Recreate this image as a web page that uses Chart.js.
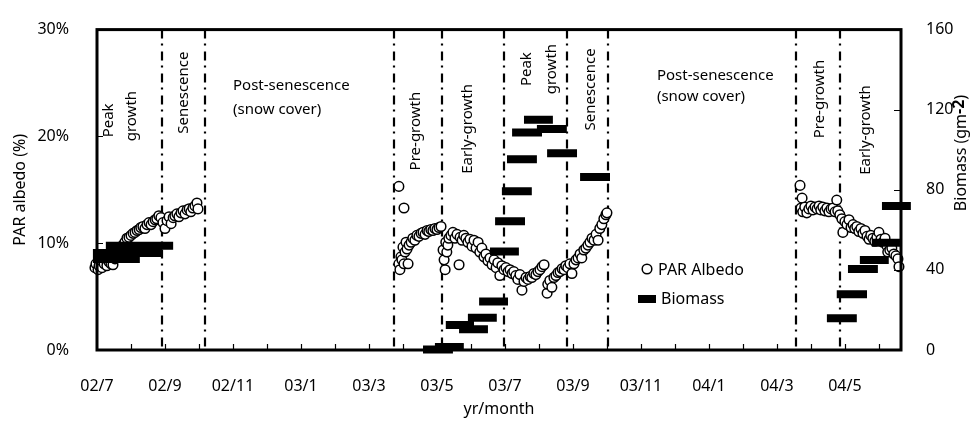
<!DOCTYPE html>
<html>
<head>
<meta charset="utf-8">
<script src="https://cdn.jsdelivr.net/npm/chart.js@4.4.1/dist/chart.umd.min.js"></script>
<style>
  html, body { margin: 0; padding: 0; background: #fff; }
</style>
</head>
<body>
<canvas id="albedoChart" width="973" height="423"></canvas>
<script>
// x values are months counted from July 2002 (0 = 02/7)
const monthLabels = ['02/7', '02/9', '02/11', '03/1', '03/3', '03/5', '03/7', '03/9', '03/11', '04/1', '04/3', '04/5'];

// PAR albedo (%), [month, value]
const albedo2002 = [
  [-0.06, 7.71], [-0.03, 8.07], [0.03, 7.52], [0.06, 7.89], [0.12, 8.26], [0.15, 7.71], [0.21, 8.07],
  [0.26, 8.44], [0.29, 7.89], [0.35, 8.26], [0.41, 8.07], [0.47, 7.98], [0.53, 8.53], [0.59, 8.72],
  [0.65, 9.17], [0.71, 9.54], [0.76, 9.82], [0.82, 10.09], [0.88, 10.46], [0.94, 10.55], [1.00, 10.73],
  [1.06, 10.92], [1.12, 11.01], [1.18, 11.19], [1.24, 11.28], [1.29, 11.47], [1.35, 11.56], [1.41, 11.38],
  [1.47, 11.74], [1.53, 11.93], [1.59, 11.74], [1.65, 12.02], [1.71, 12.20], [1.76, 12.29], [1.82, 12.57],
  [1.88, 12.39], [1.94, 11.93], [2.00, 11.38], [2.06, 12.11], [2.12, 12.48], [2.18, 11.83], [2.24, 12.39],
  [2.29, 12.57], [2.35, 12.75], [2.41, 12.48], [2.47, 12.84], [2.53, 13.03], [2.59, 12.75], [2.65, 13.12],
  [2.71, 13.21], [2.76, 12.94], [2.82, 13.30], [2.88, 13.49], [2.94, 13.76], [2.97, 13.21]
];

const albedo2003 = [
  // pre-growth
  [8.88, 15.32], [9.03, 13.30], [8.88, 8.07], [8.91, 7.52], [8.94, 8.72], [8.97, 8.44], [9.00, 9.63],
  [9.03, 8.07], [9.06, 9.17], [9.09, 10.09], [9.12, 9.45], [9.15, 8.07], [9.18, 9.82], [9.24, 10.09],
  [9.29, 10.46], [9.35, 10.28], [9.41, 10.73], [9.47, 10.64], [9.53, 10.92], [9.59, 11.01], [9.65, 10.83],
  [9.71, 11.19], [9.76, 11.10], [9.82, 11.28], [9.88, 11.19], [9.94, 11.38], [10.00, 11.28], [10.06, 11.47],
  [10.12, 11.56],
  // early growth
  [10.18, 9.36], [10.21, 8.44], [10.24, 7.52], [10.26, 10.09], [10.29, 9.17], [10.32, 9.82], [10.35, 10.46],
  [10.41, 10.73], [10.47, 11.01], [10.53, 10.46], [10.59, 10.83], [10.65, 7.98], [10.68, 10.55], [10.74, 10.28],
  [10.79, 10.73], [10.85, 10.46], [10.91, 10.09], [10.97, 10.37], [11.03, 9.72], [11.09, 10.28], [11.15, 9.54],
  [11.21, 10.09], [11.26, 9.17], [11.32, 9.54], [11.38, 8.72], [11.44, 8.99], [11.50, 8.35], [11.56, 8.62],
  [11.62, 7.98], [11.68, 8.44], [11.74, 7.71], [11.79, 8.17], [11.85, 6.97], [11.91, 7.89], [11.97, 7.52],
  // peak growth
  [12.03, 7.71], [12.09, 7.34], [12.15, 7.52], [12.21, 7.16], [12.26, 7.34], [12.32, 6.97], [12.38, 6.61],
  [12.44, 7.06], [12.50, 5.60], [12.56, 6.42], [12.62, 6.79], [12.68, 6.61], [12.74, 6.88], [12.79, 6.79],
  [12.85, 7.16], [12.91, 7.06], [12.97, 7.34], [13.03, 7.52], [13.09, 7.80], [13.15, 7.98], [13.24, 5.32],
  [13.26, 6.15], [13.32, 6.51], [13.38, 5.87], [13.44, 6.79], [13.50, 6.97], [13.56, 7.25], [13.62, 7.34],
  [13.68, 7.61], [13.74, 7.52], [13.79, 7.89],
  // senescence
  [13.85, 7.71], [13.91, 8.07], [13.97, 7.16], [14.03, 8.07], [14.09, 8.44], [14.15, 8.62], [14.21, 8.99],
  [14.26, 8.62], [14.32, 9.36], [14.38, 9.54], [14.44, 9.82], [14.50, 10.09], [14.56, 10.46], [14.62, 10.28],
  [14.68, 10.83], [14.74, 10.28], [14.79, 11.38], [14.85, 11.74], [14.91, 12.29], [14.97, 12.66], [15.00, 12.84]
];

const albedo2004 = [
  [20.68, 15.41], [20.74, 14.22], [20.71, 13.30], [20.76, 12.94], [20.82, 13.39], [20.88, 12.84], [20.94, 13.21],
  [21.00, 13.49], [21.06, 13.12], [21.12, 13.39], [21.18, 13.21], [21.24, 13.49], [21.29, 13.12], [21.35, 13.39],
  [21.41, 13.03], [21.47, 13.30], [21.53, 12.94], [21.59, 13.21], [21.65, 13.30], [21.71, 12.94], [21.76, 14.04],
  [21.79, 13.03], [21.85, 12.66], [21.91, 12.29], [21.94, 11.01], [22.00, 12.02], [22.06, 11.74], [22.12, 12.20],
  [22.18, 11.47], [22.24, 11.74], [22.29, 11.38], [22.35, 11.56], [22.41, 11.10], [22.47, 11.38], [22.53, 10.92],
  [22.59, 11.19], [22.65, 10.64], [22.71, 10.37], [22.76, 10.73], [22.82, 10.46], [22.88, 10.18], [22.94, 10.55],
  [23.00, 11.01], [23.06, 10.37], [23.12, 10.09], [23.18, 10.46], [23.24, 9.72], [23.26, 9.17], [23.32, 9.36],
  [23.38, 9.54], [23.44, 8.99], [23.50, 8.81], [23.56, 8.53], [23.59, 7.80]
];

// biomass harvests: sampling period (start/end month) and g/m2
const biomassStart = [-0.12, -0.12, 0.26,
  9.59, 9.94, 10.26, 10.65, 10.91, 11.24, 11.56, 11.71, 11.91, 12.06, 12.21, 12.56, 12.94, 13.24, 14.21,
  21.47, 21.76, 22.09, 22.44, 22.79, 23.09];
const biomassEnd = [1.26, 1.91, 2.24,
  10.47, 10.79, 11.09, 11.50, 11.76, 12.09, 12.41, 12.59, 12.79, 12.94, 13.09, 13.41, 13.82, 14.12, 15.09,
  22.35, 22.65, 22.97, 23.29, 23.62, 23.94];
const biomassValue = [45.5, 48.5, 52,
  0.2, 1.5, 12.5, 10.3, 16.1, 24.2, 49.2, 64.3, 79.3, 95.2, 108.6, 115, 110.3, 98.3, 86.4,
  15.9, 27.9, 40.4, 45.0, 53.6, 71.9];

// phase boundaries (months)
const phaseLines = [1.90, 3.18, 8.74, 10.14, 11.98, 13.83, 15.03, 20.56, 21.87];

// phase names; x in months, y on the albedo axis
const phaseLabels = [
  { text: 'Peak', x: 0.35, y: 21.5, vertical: true },
  { text: 'growth', x: 1.03, y: 21.9, vertical: true },
  { text: 'Senescence', x: 2.56, y: 24.1, vertical: true },
  { text: 'Post-senescence', x: 4.0, y: 24.7 },
  { text: '(snow cover)', x: 4.0, y: 22.5 },
  { text: 'Pre-growth', x: 9.38, y: 20.5, vertical: true },
  { text: 'Early-growth', x: 10.91, y: 20.7, vertical: true },
  { text: 'Peak', x: 12.65, y: 26.3, vertical: true },
  { text: 'growth', x: 13.38, y: 26.3, vertical: true },
  { text: 'Senescence', x: 14.53, y: 24.4, vertical: true },
  { text: 'Post-senescence', x: 16.47, y: 25.7 },
  { text: '(snow cover)', x: 16.47, y: 23.7 },
  { text: 'Pre-growth', x: 21.26, y: 23.5, vertical: true },
  { text: 'Early-growth', x: 22.62, y: 20.6, vertical: true }
];

const FONT = '"Noto Sans", "DejaVu Sans", sans-serif';

const albedoPoints = [...albedo2002, ...albedo2003, ...albedo2004].map(p => ({ x: p[0], y: p[1] }));

const biomassPoints = [];
biomassValue.forEach((v, i) => {
  biomassPoints.push({ x: biomassStart[i], y: v });
  biomassPoints.push({ x: biomassEnd[i], y: v });
  biomassPoints.push({ x: biomassEnd[i], y: null });
});

const decorations = {
  id: 'decorations',
  beforeDatasetsDraw(chart) {
    const { ctx, chartArea: a, scales: { x, y } } = chart;
    ctx.save();
    ctx.strokeStyle = '#000';
    ctx.lineWidth = 2.2;
    ctx.setLineDash([9, 5, 2, 6]);
    phaseLines.forEach(m => {
      const px = Math.round(x.getPixelForValue(m));
      ctx.beginPath();
      ctx.moveTo(px, a.top);
      ctx.lineTo(px, a.bottom);
      ctx.stroke();
    });
    ctx.setLineDash([]);

    ctx.fillStyle = '#000';
    ctx.font = '15px ' + FONT;
    ctx.textBaseline = 'middle';
    phaseLabels.forEach(l => {
      ctx.save();
      ctx.translate(x.getPixelForValue(l.x), y.getPixelForValue(l.y));
      if (l.vertical) {
        ctx.rotate(-Math.PI / 2);
        ctx.textAlign = 'center';
      } else {
        ctx.textAlign = 'left';
      }
      ctx.fillText(l.text, 0, 0);
      ctx.restore();
    });
    ctx.restore();
  },
  afterDatasetsDraw(chart) {
    const { ctx, chartArea: a, scales: { x, y, y1 } } = chart;
    ctx.save();
    ctx.strokeStyle = '#000';

    // frame
    ctx.lineWidth = 3;
    ctx.strokeRect(a.left, a.top, a.right - a.left, a.bottom - a.top);

    // inward tick marks
    ctx.lineWidth = 1.2;
    ctx.beginPath();
    for (let m = 1; m < x.max; m++) {
      const px = Math.round(x.getPixelForValue(m)) + 0.5;
      ctx.moveTo(px, a.bottom);
      ctx.lineTo(px, a.bottom - 6);
    }
    [10, 20].forEach(v => {
      const py = Math.round(y.getPixelForValue(v)) + 0.5;
      ctx.moveTo(a.left, py);
      ctx.lineTo(a.left + 6, py);
    });
    [40, 80, 120].forEach(v => {
      const py = Math.round(y1.getPixelForValue(v)) + 0.5;
      ctx.moveTo(a.right, py);
      ctx.lineTo(a.right - 7, py);
    });
    ctx.stroke();

    // legend
    ctx.fillStyle = '#fff';
    ctx.lineWidth = 1.5;
    ctx.beginPath();
    ctx.arc(647, 269, 4.8, 0, Math.PI * 2);
    ctx.fill();
    ctx.stroke();
    ctx.fillStyle = '#000';
    ctx.fillRect(638, 295, 18, 8);
    ctx.font = '16px ' + FONT;
    ctx.textAlign = 'left';
    ctx.textBaseline = 'middle';
    ctx.fillText('PAR Albedo', 658, 270);
    ctx.fillText('Biomass', 661, 299);

    // right axis title with bold exponent
    ctx.translate(961, 153);
    ctx.rotate(-Math.PI / 2);
    const normal = '16px ' + FONT;
    const bold = 'bold 16px ' + FONT;
    const parts = [['Biomass (gm', normal, 0], ['-2', bold, -2], [')', normal, 0]];
    let total = 0;
    parts.forEach(p => { ctx.font = p[1]; total += ctx.measureText(p[0]).width; });
    let cx = -total / 2;
    parts.forEach(p => {
      ctx.font = p[1];
      ctx.fillText(p[0], cx, p[2]);
      cx += ctx.measureText(p[0]).width;
    });
    ctx.restore();
  }
};

const tickFont = { family: FONT, size: 16 };

new Chart(document.getElementById('albedoChart'), {
  type: 'scatter',
  data: {
    datasets: [
      {
        label: 'Biomass',
        data: biomassPoints,
        yAxisID: 'y1',
        showLine: true,
        spanGaps: false,
        borderColor: '#000',
        borderWidth: 8,
        borderCapStyle: 'butt',
        pointRadius: 0,
        clip: false,
        order: 0
      },
      {
        label: 'PAR Albedo',
        data: albedoPoints,
        yAxisID: 'y',
        pointStyle: 'circle',
        pointRadius: 4.8,
        pointBackgroundColor: '#fff',
        pointBorderColor: '#000',
        pointBorderWidth: 1.5,
        clip: false,
        order: 1
      }
    ]
  },
  options: {
    responsive: false,
    animation: false,
    devicePixelRatio: 1,
    layout: { padding: { top: 23, left: 0, right: 0, bottom: 0 } },
    plugins: {
      legend: { display: false },
      tooltip: { enabled: false }
    },
    scales: {
      x: {
        type: 'linear',
        min: 0,
        max: 23.65,
        afterFit: s => { s.height = 73; },
        grid: { display: false },
        border: { display: false },
        ticks: {
          stepSize: 1,
          autoSkip: false,
          includeBounds: false,
          maxRotation: 0,
          padding: 19,
          color: '#000',
          font: tickFont,
          callback: v => (Number.isInteger(v) && v % 2 === 0) ? monthLabels[v / 2] : ''
        },
        title: {
          display: true,
          text: 'yr/month',
          color: '#000',
          font: tickFont,
          padding: { top: 0, bottom: 4 }
        }
      },
      y: {
        position: 'left',
        min: 0,
        max: 30,
        afterFit: s => { s.width = 97; },
        grid: { display: false },
        border: { display: false },
        ticks: {
          stepSize: 10,
          padding: 20,
          color: '#000',
          font: tickFont,
          callback: v => v + '%'
        },
        title: {
          display: true,
          text: 'PAR albedo (%)',
          color: '#000',
          font: tickFont,
          padding: { top: 11, bottom: 0 }
        }
      },
      y1: {
        position: 'right',
        min: 0,
        max: 160,
        afterFit: s => { s.width = 72; },
        grid: { display: false },
        border: { display: false },
        ticks: {
          stepSize: 40,
          padding: 17,
          color: '#000',
          font: tickFont
        }
      }
    }
  },
  plugins: [decorations]
});
</script>
</body>
</html>
